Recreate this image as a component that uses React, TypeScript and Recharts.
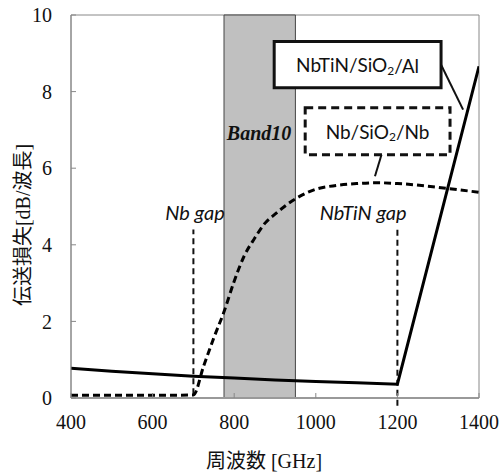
import { LineChart, Line, XAxis, YAxis, ReferenceArea, ReferenceLine, ReferenceDot } from "recharts";

// NbTiN/SiO2/Al line loss [dB/wavelength]
const nbtinFreq = [400, 500, 600, 700, 800, 900, 1000, 1100, 1200, 1400];
const nbtinLoss = [0.78, 0.7, 0.63, 0.57, 0.52, 0.47, 0.43, 0.4, 0.36, 8.66];

// Nb/SiO2/Nb line loss [dB/wavelength]
const nbFreq = [400, 500, 600, 700, 725, 750, 775, 800, 825, 850, 875, 900, 950, 1000, 1050, 1100, 1150, 1200, 1300, 1400];
const nbLoss = [0.07, 0.07, 0.07, 0.08, 0.83, 1.57, 2.25, 3.05, 3.72, 4.17, 4.56, 4.8, 5.2, 5.45, 5.55, 5.6, 5.62, 5.6, 5.5, 5.37];

const xTicks = [400, 600, 800, 1000, 1200, 1400];
const yTicks = [0, 2, 4, 6, 8, 10];

// ALMA Band 10 and gap frequencies
const band10 = [775, 950];
const nbGap = 700;
const nbtinGap = 1200;

const nbtinData = nbtinFreq.map((f, i) => ({ freq: f, loss: nbtinLoss[i] }));
const nbData = nbFreq.map((f, i) => ({ freq: f, loss: nbLoss[i] }));

const SERIF = "'Liberation Serif', 'Times New Roman', serif";
const SANS = "Lato, 'Noto Sans', sans-serif";
const CJK = "'Liberation Serif', 'Noto Sans CJK JP', serif";

const boxLabel = (pre: string, post: string) => (props: any) => {
  const { x, y, width, height } = props.viewBox;
  return (
    <text x={x + width / 2} y={y + height / 2} textAnchor="middle" dominantBaseline="central" fontFamily={SANS} fontSize={19} fill="#111">
      {pre}SiO
      <tspan fontSize={12} dy={5}>2</tspan>
      <tspan dy={-5}>{post}</tspan>
    </text>
  );
};

const textLabel = (value: string, font: string, size: number, weight = "normal") => (props: any) => {
  const { x, y, width, height } = props.viewBox;
  return (
    <text x={x + width / 2} y={y + height / 2} textAnchor="middle" dominantBaseline="central" fontFamily={font} fontSize={size} fontStyle="italic" fontWeight={weight} fill="#111">
      {value}
    </text>
  );
};

const yTitle = () => (
  <text x={23} y={225} transform="rotate(-90 23 225)" textAnchor="middle" dominantBaseline="central" fontFamily={CJK} fontSize={20} fill="#111">
    伝送損失[dB/波長]
  </text>
);

const xTitle = () => (
  <text x={264} y={461} textAnchor="middle" dominantBaseline="central" fontFamily={CJK} fontSize={20} fill="#111">
    周波数 [GHz]
  </text>
);

export default function App() {
  return (
    <div style={{ position: "absolute", left: 0, top: 0, background: "#fff" }}>
      <LineChart width={501} height={476} margin={{ top: 15, right: 22, bottom: 0, left: 0 }}>
        <XAxis
          type="number"
          dataKey="freq"
          domain={[400, 1400]}
          ticks={xTicks}
          height={78}
          tickSize={-5}
          tickMargin={22}
          axisLine={{ stroke: "#999", strokeWidth: 2 }}
          tickLine={{ stroke: "#888" }}
          tick={{ fill: "#111", fontFamily: SERIF, fontSize: 20 }}
          label={xTitle}
          allowDataOverflow
        />
        <YAxis
          type="number"
          domain={[0, 10]}
          ticks={yTicks}
          width={71}
          tickSize={-5}
          tickMargin={24}
          axisLine={{ stroke: "#888" }}
          tickLine={{ stroke: "#888" }}
          tick={{ fill: "#111", fontFamily: SERIF, fontSize: 20 }}
          label={yTitle}
          allowDataOverflow
        />
        <ReferenceArea x1={400} x2={1400} y1={0} y2={10} fill="none" stroke="#888" strokeWidth={1} />
        <ReferenceArea x1={band10[0]} x2={band10[1]} y1={0} y2={10} fill="#c0c0c0" fillOpacity={1} stroke="#444" strokeWidth={1} />
        <ReferenceDot x={861} y={6.93} r={0} fill="none" stroke="none" label={textLabel("Band10", SERIF, 20, "bold")} />

        <ReferenceLine segment={[{ x: nbGap, y: 0.1 }, { x: nbGap, y: 4.4 }]} stroke="#111" strokeWidth={2} strokeDasharray="6 4" />
        <ReferenceLine segment={[{ x: nbtinGap, y: -0.2 }, { x: nbtinGap, y: 4.4 }]} stroke="#111" strokeWidth={2} strokeDasharray="6 4" ifOverflow="visible" />
        <ReferenceDot x={704} y={4.86} r={0} fill="none" stroke="none" label={textLabel("Nb gap", SANS, 20)} />
        <ReferenceDot x={1116} y={4.86} r={0} fill="none" stroke="none" label={textLabel("NbTiN gap", SANS, 20)} />

        <Line data={nbtinData} dataKey="loss" type="linear" stroke="#000" strokeWidth={3} dot={false} isAnimationActive={false} />
        <Line data={nbData} dataKey="loss" type="monotone" stroke="#000" strokeWidth={3} strokeDasharray="7 4" dot={false} isAnimationActive={false} />

        <ReferenceLine segment={[{ x: 1307, y: 8.7 }, { x: 1361, y: 7.53 }]} stroke="#111" strokeWidth={2} />
        <ReferenceArea x1={898} x2={1307} y1={8.1} y2={9.31} fill="#fff" fillOpacity={1} stroke="#111" strokeWidth={3} label={boxLabel("NbTiN/", "/Al")} />
        <ReferenceLine segment={[{ x: 1161, y: 6.35 }, { x: 1145, y: 5.79 }]} stroke="#111" strokeWidth={2} />
        <ReferenceArea x1={974} x2={1329} y1={6.35} y2={7.58} fill="#fff" fillOpacity={1} stroke="#111" strokeWidth={3} strokeDasharray="8 5" label={boxLabel("Nb/", "/Nb")} />
      </LineChart>
    </div>
  );
}
